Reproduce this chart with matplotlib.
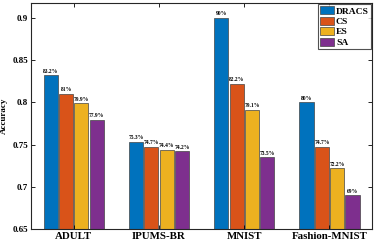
import matplotlib.pyplot as plt
import numpy as np

datasets = ["ADULT", "IPUMS-BR", "MNIST", "Fashion-MNIST"]
methods = ["DRACS", "CS", "ES", "SA"]
dracs = [0.832, 0.753, 0.900, 0.800]
cs = [0.810, 0.747, 0.822, 0.747]
es = [0.799, 0.744, 0.791, 0.722]
sa = [0.779, 0.742, 0.735, 0.690]
labels = [
    ["83.2%", "75.3%", "90%", "80%"],
    ["81%", "74.7%", "82.2%", "74.7%"],
    ["79.9%", "74.4%", "79.1%", "72.2%"],
    ["77.9%", "74.2%", "73.5%", "69%"],
]
colors = ["#0072BD", "#D95319", "#EDB120", "#7E2F8E"]

plt.rcParams["font.family"] = ["Liberation Serif", "DejaVu Serif"]
plt.rcParams["font.weight"] = "bold"

fig = plt.figure(figsize=(3.74, 2.42), dpi=100)
ax = fig.add_axes([0.083, 0.054, 0.912, 0.934])

x = np.arange(1, len(datasets) + 1)
w = 0.165
step = 0.18
series = [dracs, cs, es, sa]
for i, vals in enumerate(series):
    pos = x + (i - 1.5) * step
    ax.bar(pos, vals, width=w, color=colors[i], edgecolor="#444444",
           linewidth=0.5, label=methods[i])
    for p, v, t in zip(pos, vals, labels[i]):
        ax.text(p, v + 0.002, t, ha="center", va="bottom", fontsize=4,
                fontweight="bold")

ax.set_xlim(0.5, 4.5)
ax.set_ylim(0.65, 0.918)
ax.set_xticks(x)
ax.set_xticklabels(datasets, fontsize=7.8, fontweight="bold")
ax.set_yticks([0.65, 0.7, 0.75, 0.8, 0.85, 0.9])
ax.set_yticklabels(["0.65", "0.7", "0.75", "0.8", "0.85", "0.9"], fontsize=6.5,
                   fontweight="bold")
ax.tick_params(direction="in", top=True, right=True, length=3, width=0.6, pad=2)
for s in ax.spines.values():
    s.set_linewidth(0.8)
    s.set_color("#262626")
ax.set_ylabel("Accuracy", fontsize=6.5, fontweight="bold", labelpad=3)

leg = ax.legend(loc="upper right", fontsize=6.8, frameon=True, fancybox=False,
                edgecolor="#262626", borderpad=0.2, labelspacing=0.12,
                handlelength=1.45, handleheight=0.95, handletextpad=0.2,
                borderaxespad=0.15)
leg.get_frame().set_linewidth(0.8)
for t in leg.get_texts():
    t.set_fontweight("bold")

fig.savefig("out.png", dpi=100)
